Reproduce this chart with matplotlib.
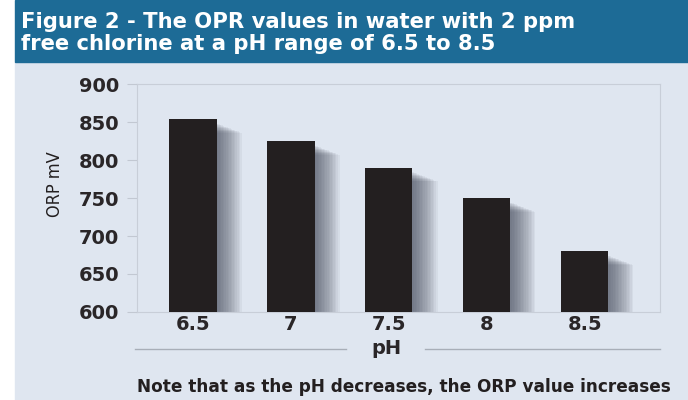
import numpy as np
import matplotlib
matplotlib.use("Agg")
import matplotlib.pyplot as plt
from matplotlib.patches import Rectangle
from matplotlib.lines import Line2D

# data
ph_labels = ["6.5", "7", "7.5", "8", "8.5"]
orp_mv = [854, 825, 790, 750, 680]
y_ticks = [600, 650, 700, 750, 800, 850, 900]

title = "Figure 2 - The OPR values in water with 2 ppm\nfree chlorine at a pH range of 6.5 to 8.5"
note = "Note that as the pH decreases, the ORP value increases"

W, H = 688, 400
BG = "#dfe6f0"
HEADER = "#1d6b96"
INK = "#231f20"
FONT = ["DejaVu Sans"]

fig = plt.figure(figsize=(W / 100, H / 100), dpi=100)
fig.patch.set_facecolor("white")

# panel background + blue header
fig.add_artist(Rectangle((15 / W, 0), 1, 1 - 62 / H, transform=fig.transFigure,
                         color=BG, zorder=0))
fig.add_artist(Rectangle((15 / W, 1 - 62 / H), 1, 62 / H, transform=fig.transFigure,
                         color=HEADER, zorder=0))
fig.text(21 / W, 1 - 33 / H, title, color="white", fontsize=15.2, fontweight="bold",
         family=FONT, va="center", ha="left", linespacing=1.12)

ax = fig.add_axes([137 / W, 1 - 312 / H, 523 / W, 228 / H])
ax.set_facecolor(BG)

x = np.arange(len(orp_mv))
vals = np.array(orp_mv, dtype=float)
width = 0.485

# soft drop shadow to the right of each bar
for k in range(16):
    ax.bar(x + 0.016 * (k + 1), vals - 600 - 6 - k * 0.8, width, bottom=600,
           color="#3c4252", alpha=0.06, linewidth=0, zorder=1)
ax.bar(x, vals - 600, width, bottom=600, color=INK, linewidth=0, zorder=3)

ax.set_xlim(-0.57, 4.77)
ax.set_ylim(600, 900)
ax.set_yticks(y_ticks)
ax.set_xticks(x)
ax.set_xticklabels(ph_labels)
for spine in ax.spines.values():
    spine.set_color("#c8ced8")
    spine.set_linewidth(0.8)
ax.tick_params(axis="y", length=7, width=0.8, color="#c2c8d2", pad=6)
ax.tick_params(axis="x", length=0, pad=2)
for lab in ax.get_yticklabels() + ax.get_xticklabels():
    lab.set_fontsize(14)
    lab.set_fontweight("bold")
    lab.set_family(FONT)
    lab.set_color("#2a2628")

fig.text(55 / W, 1 - 184 / H, "ORP mV", rotation=90, fontsize=13, color=INK,
         family=["Liberation Sans Narrow", "DejaVu Sans"], fontstretch="condensed",
         va="center", ha="center")

# pH axis caption with rules either side
fig.text(386 / W, 1 - 348 / H, "pH", fontsize=14, fontweight="bold", family=FONT,
         color="#2a2628", ha="center", va="center")
for x0, x1 in [(135, 346), (425, 660)]:
    fig.add_artist(Line2D([x0 / W, x1 / W], [1 - 349 / H] * 2, transform=fig.transFigure,
                          color="#a8aeb8", lw=1))

fig.text(137 / W, 1 - 387 / H, note, fontsize=12.2, fontweight="bold",
         family=FONT, color=INK, ha="left", va="center")

fig.savefig("out.png", dpi=100)
